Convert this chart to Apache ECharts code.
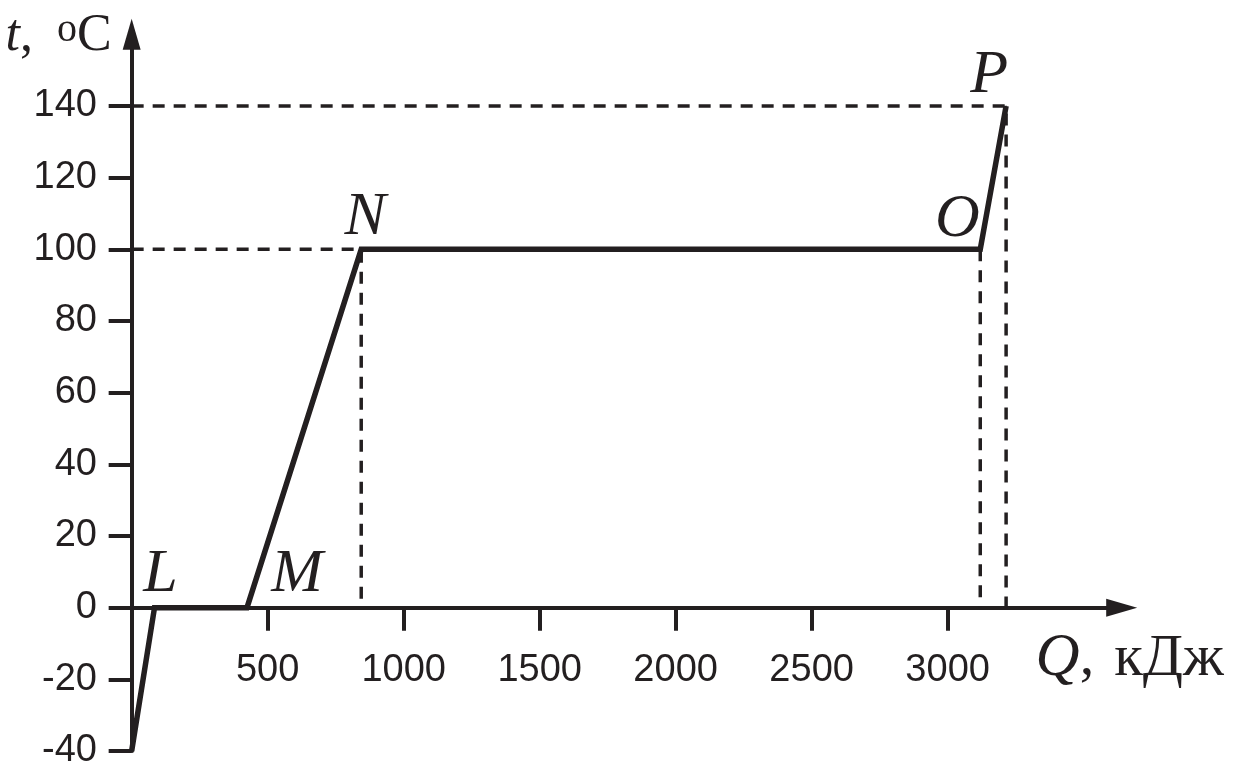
<!DOCTYPE html>
<html><head><meta charset="utf-8">
<script src="https://cdn.jsdelivr.net/npm/echarts@6/dist/echarts.min.js"></script>
<style>html,body{margin:0;padding:0;background:#fff}#c{width:1236px;height:771px}</style>
</head><body><div id="c"></div>
<script>
// ---- data ----
const pointNames = ['', 'L', 'M', 'N', 'O', 'P'];
const heatQ = [0, 84, 424, 844, 3120, 3215];      // Q, кДж
const tempT = [-40, 0, 0, 100, 100, 140];         // t, °C
const xTickValues = [500, 1000, 1500, 2000, 2500, 3000];
const yTickValues = [-40, -20, 0, 20, 40, 60, 80, 100, 120, 140];
const hGuidePoints = ['N', 'P'];
const vGuidePoints = ['N', 'O', 'P'];

// ---- style ----
const INK = '#231f20';
const NUM_FONT = '"Liberation Sans",Arial,sans-serif';
const SERIF = '"Liberation Serif","Times New Roman",serif';
const labelOffsets = { L: [6, -1], M: [50, -1], N: [4, 0], O: [-23, 2], P: [-17, 1] };

const mainData = heatQ.map((q, i) => {
  const name = pointNames[i];
  const item = { value: [q, tempT[i]] };
  if (name) {
    item.label = { show: true, formatter: name, position: 'top', distance: 0, offset: labelOffsets[name] };
  }
  return item;
});

const guideSeries = [];
const dashStyle = { color: INK, width: 3.5, type: [12, 9] };
pointNames.forEach((name, i) => {
  if (!name) return;
  const q = heatQ[i], t = tempT[i];
  const pts = [];
  if (hGuidePoints.includes(name)) pts.push([0, t]);
  if (hGuidePoints.includes(name) || vGuidePoints.includes(name)) pts.push([q, t]);
  if (vGuidePoints.includes(name)) pts.push([q, 0]);
  if (pts.length > 1) {
    guideSeries.push({ type: 'line', data: pts, symbol: 'none', silent: true, z: 1,
      lineStyle: dashStyle, animation: false });
  }
});

const plain = v => String(v);

const chart = echarts.init(document.getElementById('c'), null, { renderer: 'canvas' });
chart.setOption({
  animation: false,
  backgroundColor: '#fff',
  grid: { left: 116.7, right: 114.3, top: 34.3, bottom: 20, containLabel: false, outerBoundsMode: 'none' },
  xAxis: {
    type: 'value', min: -55, max: 3640,
    axisLine: { onZero: true, symbol: ['none', 'triangle'], symbolSize: [18, 31], lineStyle: { color: INK, width: 4 } },
    axisTick: { customValues: xTickValues, length: 23, lineStyle: { color: INK, width: 4 } },
    axisLabel: { customValues: xTickValues, formatter: plain, margin: -99.5, fontSize: 38, fontFamily: NUM_FONT, color: INK },
    splitLine: { show: false },
    name: '{i|Q}{n|,}{m|кДж}', nameLocation: 'end', nameGap: 8, nameMoveOverlap: false,
    nameTextStyle: { align: 'center', verticalAlign: 'top', padding: [21, 0, 0, 0], color: INK,
      rich: { i: { fontFamily: SERIF, fontStyle: 'italic', fontSize: 61, color: INK },
              n: { fontFamily: SERIF, fontSize: 58, color: INK },
              m: { fontFamily: SERIF, fontSize: 59, color: INK, padding: [0, 0, 0, 20] } } }
  },
  yAxis: {
    type: 'value', min: -40, max: 160,
    axisLine: { onZero: true, symbol: ['none', 'triangle'], symbolSize: [18, 31], lineStyle: { color: INK, width: 4 } },
    axisTick: { customValues: yTickValues, length: 23, lineStyle: { color: INK, width: 4 } },
    axisLabel: { customValues: yTickValues, formatter: plain, margin: 19.7, fontSize: 38, fontFamily: NUM_FONT, color: INK },
    splitLine: { show: false },
    name: '{i|t}{n|,}{s|o}{n|C}', nameLocation: 'end', nameGap: -28, nameMoveOverlap: false,
    nameTextStyle: { align: 'right', verticalAlign: 'bottom', padding: [0, 20, 0, 0], color: INK,
      rich: { i: { fontFamily: SERIF, fontStyle: 'italic', fontSize: 52, color: INK },
              n: { fontFamily: SERIF, fontSize: 52, color: INK },
              s: { fontFamily: SERIF, fontSize: 40, color: INK, verticalAlign: 'top', lineHeight: 24, padding: [0, 0, 0, 24] } } }
  },
  series: guideSeries.concat([{
    type: 'line', data: mainData, z: 3,
    symbol: 'circle', symbolSize: 1, showSymbol: true,
    itemStyle: { color: INK },
    lineStyle: { color: INK, width: 5.5, join: 'miter', cap: 'butt' },
    label: { fontFamily: SERIF, fontStyle: 'italic', fontSize: 62, color: INK }
  }])
});
</script></body></html>
